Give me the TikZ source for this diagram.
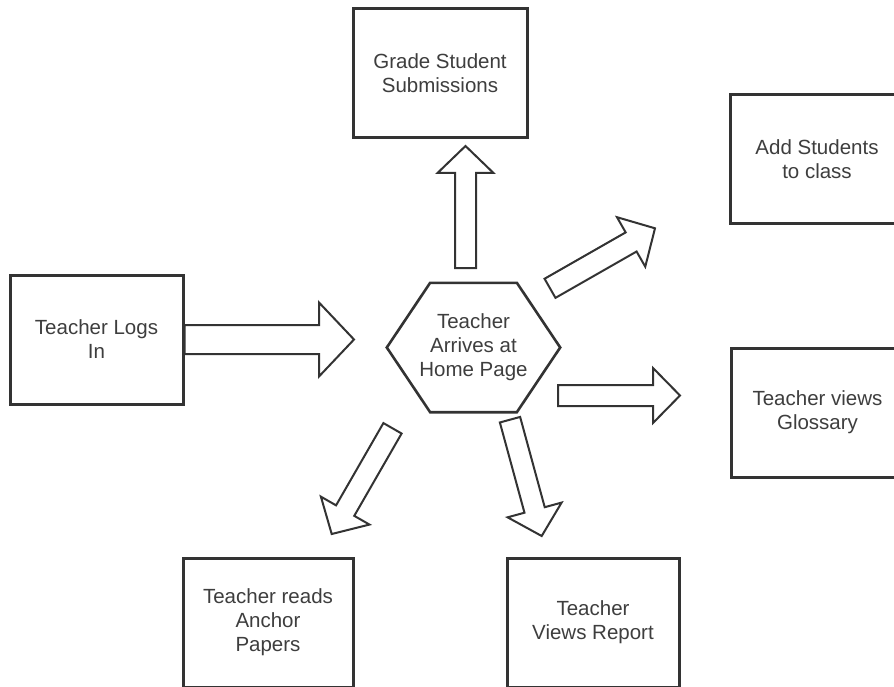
\documentclass[tikz,border=0pt]{standalone}
\usepackage{fontspec}
\setmainfont{Liberation Sans}
\usetikzlibrary{calc}

\definecolor{edge}{RGB}{51,51,51}
\definecolor{ink}{RGB}{62,62,62}

\tikzset{
  label text/.style={text=ink, align=center, inner sep=0pt,
    font=\fontsize{20.5}{24}\selectfont},
  stepbox/.style={label text, draw=edge, line width=3pt, fill=white,
    minimum height=129pt},
  hexline/.style={draw=edge, line width=2.6pt, line join=miter},
  blockline/.style={draw=edge, line width=2pt, fill=white, line join=miter},
}

% hollow block arrow: #1 tail, #2 tip, #3 half shaft width,
% #4 half head width, #5 head length
\newcommand\blockarrow[5]{%
  \coordinate (#2-base) at ($(#2)!#5!(#1)$);
  \draw[blockline]
    ($(#1)!#3!90:(#2)$) -- ($(#2-base)!#3!90:(#2)$) --
    ($(#2-base)!#4!90:(#2)$) -- (#2) --
    ($(#2-base)!#4!-90:(#2)$) -- ($(#2-base)!#3!-90:(#2)$) --
    ($(#1)!#3!-90:(#2)$) -- cycle;
}

\begin{document}
\begin{tikzpicture}[x=1pt, y=-1pt]
  \useasboundingbox (0,0) rectangle (894,687);
  \fill[white] (0,0) rectangle (894,687);
  \clip (0,0) rectangle (894,687);

  % activity boxes
  \node[stepbox, minimum width=174pt] (grade)  at (440,73.5)   {Grade Student\\Submissions};
  \node[stepbox, minimum width=174pt] (add)    at (817,159.5)  {Add Students\\to class};
  \node[stepbox, minimum width=173pt] (logs)   at (96.5,339.5) {Teacher Logs\\In};
  \node[stepbox, minimum width=173pt] (gloss)  at (817.5,412.5){Teacher views\\Glossary};
  \node[stepbox, minimum width=170pt] (anchor) at (268,622.5)  {Teacher reads\\Anchor\\Papers};
  \node[stepbox, minimum width=172pt] (report) at (593,622.5)  {Teacher\\Views Report};

  % central hexagon
  \node[label text, minimum width=173pt, minimum height=129pt] (hex) at (473.5,347.5)
    {Teacher\\Arrives at\\Home Page};
  \draw[hexline] (hex.west)
    -- ($(hex.north west)!0.25!(hex.north east)$)
    -- ($(hex.north west)!0.75!(hex.north east)$)
    -- (hex.east)
    -- ($(hex.south west)!0.75!(hex.south east)$)
    -- ($(hex.south west)!0.25!(hex.south east)$)
    -- cycle;

  % arrow ends
  \coordinate (a1t) at (logs.east);
  \coordinate (a1h) at (354,339.5);
  \coordinate (a2t) at (465.5,268);
  \coordinate (a2h) at (465.5,146);
  \coordinate (a3t) at (550,288.3);
  \coordinate (a3h) at (655,228.3);
  \coordinate (a4t) at (558,395.5);
  \coordinate (a4h) at (680,395.5);
  \coordinate (a5t) at (392.5,428.3);
  \coordinate (a5h) at (331.7,534);
  \coordinate (a6t) at (510,419.7);
  \coordinate (a6h) at (541.7,536);

  % block arrows
  \blockarrow{a1t}{a1h}{14.5pt}{37pt}{35pt}
  \blockarrow{a2t}{a2h}{10.5pt}{28pt}{27pt}
  \blockarrow{a3t}{a3h}{11pt}{28.5pt}{27.5pt}
  \blockarrow{a4t}{a4h}{10.5pt}{27.5pt}{27pt}
  \blockarrow{a5t}{a5h}{10.5pt}{28pt}{27pt}
  \blockarrow{a6t}{a6h}{10.5pt}{28pt}{27pt}
\end{tikzpicture}
\end{document}
